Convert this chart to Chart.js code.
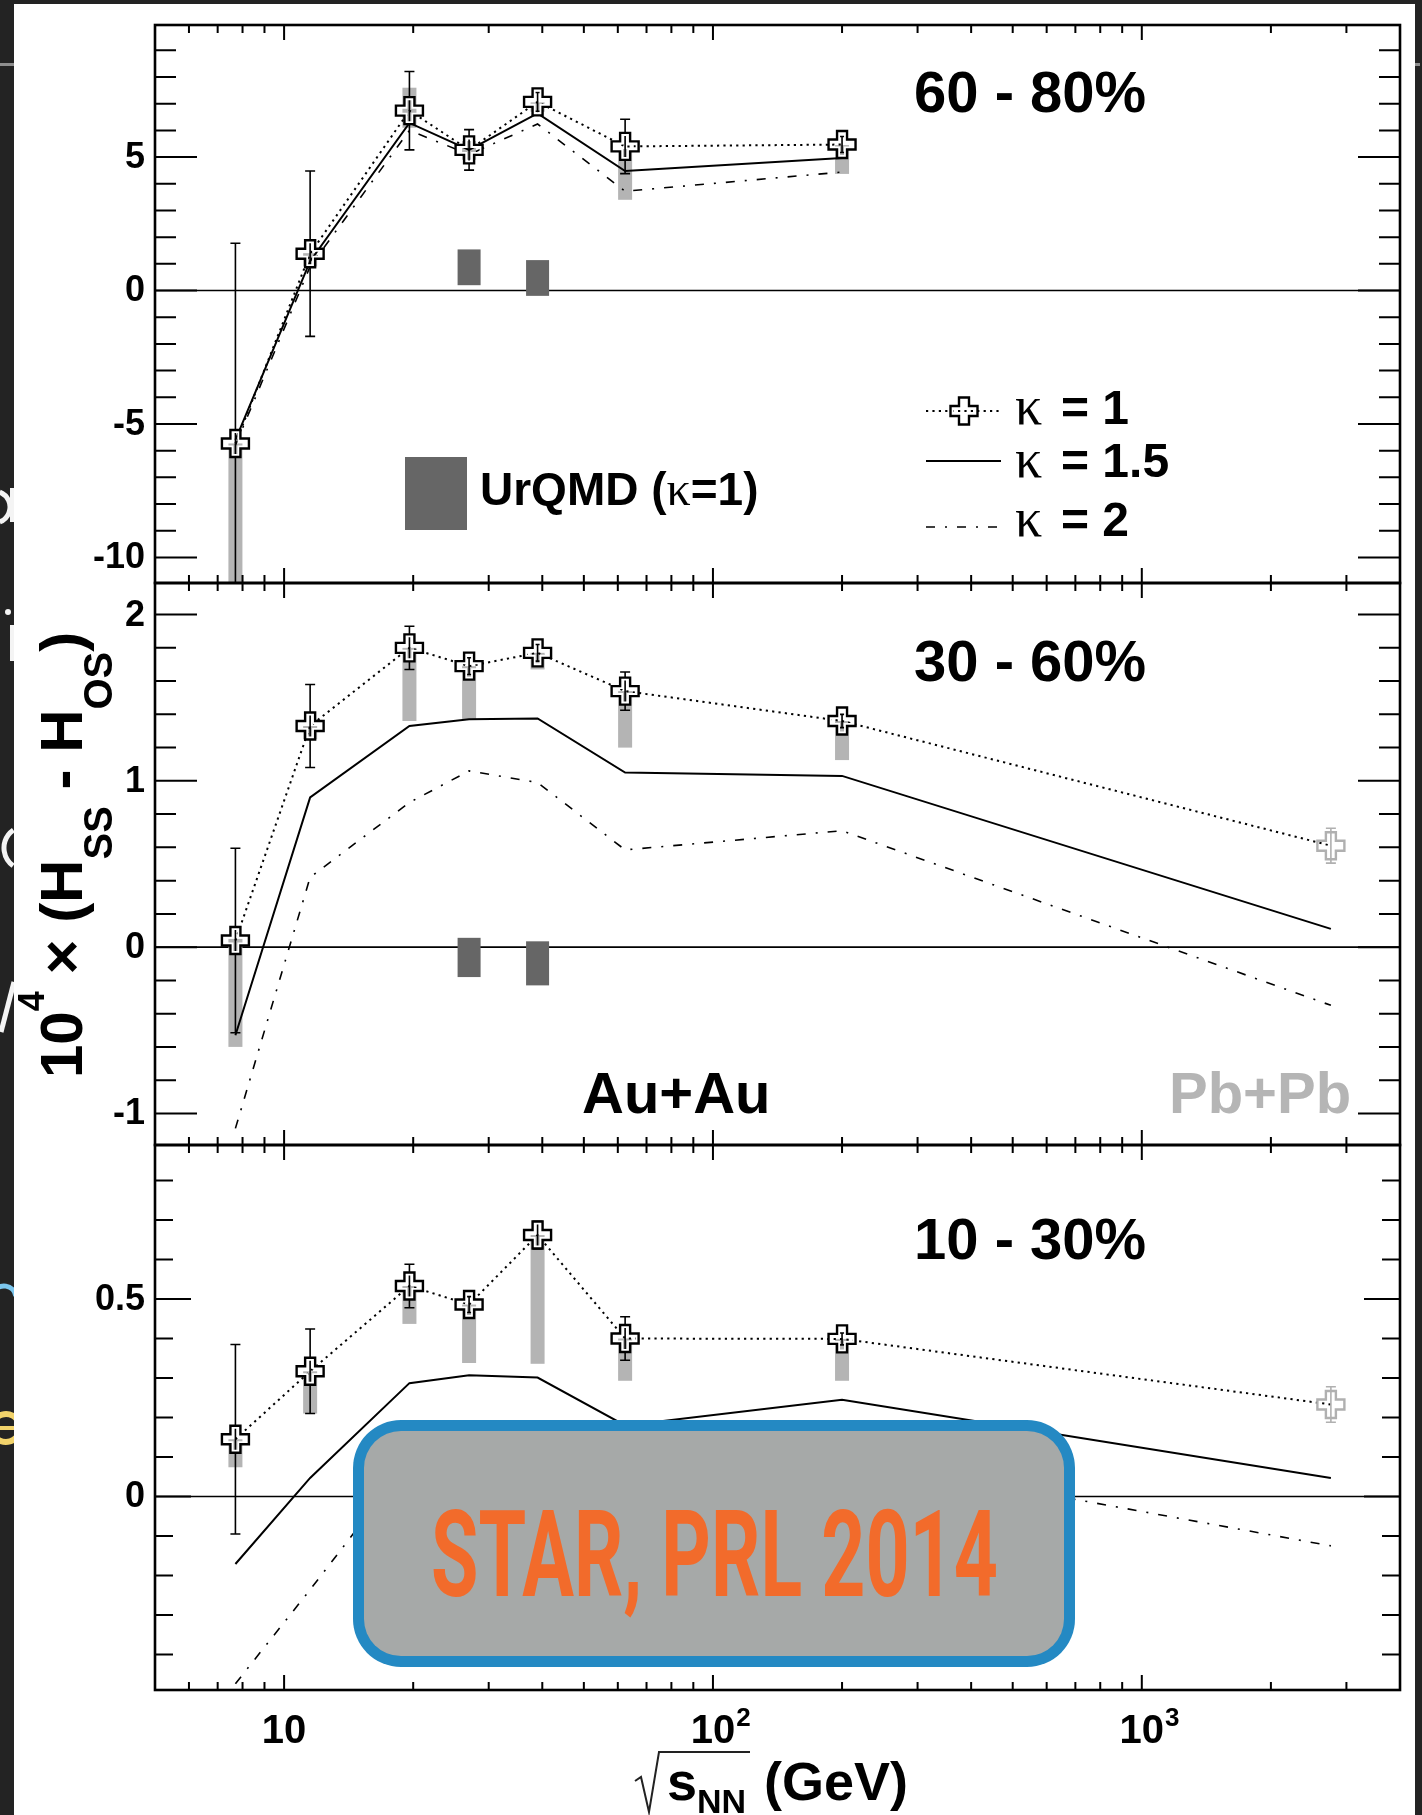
<!DOCTYPE html>
<html>
<head>
<meta charset="utf-8">
<script src="https://cdn.jsdelivr.net/npm/chart.js@4.4.1/dist/chart.umd.min.js"></script>
<style>
  html, body { margin: 0; padding: 0; background: #232323; }
  #wrap { position: relative; width: 1422px; height: 1815px; overflow: hidden; }
  #wrap canvas { position: absolute; left: 0; top: 0; }
</style>
</head>
<body>
<div id="wrap">
  <canvas id="bg" width="1422" height="1815"></canvas>
  <canvas id="c1" width="1422" height="1815"></canvas>
  <canvas id="c2" width="1422" height="1815"></canvas>
  <canvas id="c3" width="1422" height="1815"></canvas>
  <canvas id="fg" width="1422" height="1815"></canvas>
</div>
<script>
// ---------------- data ----------------
const energiesAu = [7.7, 11.5, 19.6, 27, 39, 62.4, 200];   // sqrt(s_NN), GeV
const energiesPb = [2760];
const energiesUrqmd = [27, 39];

// 60-80% centrality
const c6080K1      = [-5.73, 1.38, 6.74, 5.27, 7.07, 5.40, 5.47];
const c6080Stat    = [7.5, 3.1, 1.47, 0.76, 0.35, 1.02, 0.3];
const c6080SysLow  = [-13.0, 0.9, 6.1, 4.9, 6.7, 3.40, 4.37];
const c6080SysHigh = [-5.73, 1.4, 7.6, 5.6, 7.05, 5.3, 5.45];
const c6080K15     = [-5.6, 1.1, 6.28, 5.27, 6.64, 4.48, 4.97];
const c6080K2      = [-5.8, 0.9, 6.0, 5.1, 6.24, 3.72, 4.44];
const c6080UrqmdLow  = [0.20, -0.20];
const c6080UrqmdHigh = [1.54, 1.14];
const c6080Pb = [], c6080PbStat = [];
const c6080YRange = [-10.96, 9.95];
const c6080YTicks = [5, 0, -5, -10];
const c6080YTickLabels = ['5', '0', '-5', '-10'];

// 30-60% centrality
const c3060K1      = [0.04, 1.33, 1.80, 1.69, 1.77, 1.54, 1.36];
const c3060Stat    = [0.555, 0.25, 0.13, 0.05, 0.05, 0.115, 0.04];
const c3060SysLow  = [-0.60, 1.25, 1.36, 1.37, 1.67, 1.20, 1.125];
const c3060SysHigh = [0.05, 1.33, 1.80, 1.69, 1.77, 1.54, 1.36];
const c3060K15     = [-0.53, 0.90, 1.33, 1.37, 1.375, 1.05, 1.03, 0.11];
const c3060K2      = [-1.09, 0.42, 0.87, 1.06, 0.99, 0.585, 0.70, -0.35];
const c3060UrqmdLow  = [-0.18, -0.23];
const c3060UrqmdHigh = [0.056, 0.035];
const c3060Pb = [0.61], c3060PbStat = [0.105];
const c3060YRange = [-1.19, 2.19];
const c3060YTicks = [2, 1, 0, -1];
const c3060YTickLabels = ['2', '1', '0', '-1'];

// 10-30% centrality
const c1030K1      = [0.145, 0.317, 0.533, 0.486, 0.662, 0.40, 0.399];
const c1030Stat    = [0.24, 0.107, 0.055, 0.02, 0.035, 0.055, 0.015];
const c1030SysLow  = [0.074, 0.21, 0.437, 0.338, 0.336, 0.293, 0.293];
const c1030SysHigh = [0.145, 0.317, 0.533, 0.486, 0.662, 0.40, 0.399];
const c1030K15     = [-0.171, 0.047, 0.287, 0.307, 0.301, 0.18, 0.245, 0.047];
const c1030K2      = [-0.474, -0.236, 0.09, 0.15, 0.13, 0.02, 0.10, -0.125];
const c1030UrqmdLow = [], c1030UrqmdHigh = [];
const c1030Pb = [0.233], c1030PbStat = [0.045];
const c1030YRange = [-0.49, 0.89];
const c1030YTicks = [0.5, 0];
const c1030YTickLabels = ['0.5', '0'];

const xRange = [5, 4000];
const xTickValues = [10, 100, 1000];
const xTickBase = ['10', '10', '10'];
const xTickExp = ['', '2', '3'];

const panelLabels = ['60 - 80%', '30 - 60%', '10 - 30%'];
const legendLabels = ['1', '1.5', '2'];

// ---------------- panel set-up ----------------
const panels = [
  { canvas: 'c1', label: panelLabels[0], k1: c6080K1, stat: c6080Stat, sysLo: c6080SysLow, sysHi: c6080SysHigh,
    k15: c6080K15, k2: c6080K2, urLo: c6080UrqmdLow, urHi: c6080UrqmdHigh, pb: c6080Pb, pbStat: c6080PbStat,
    yRange: c6080YRange, yTicks: c6080YTicks, yTickLabels: c6080YTickLabels },
  { canvas: 'c2', label: panelLabels[1], k1: c3060K1, stat: c3060Stat, sysLo: c3060SysLow, sysHi: c3060SysHigh,
    k15: c3060K15, k2: c3060K2, urLo: c3060UrqmdLow, urHi: c3060UrqmdHigh, pb: c3060Pb, pbStat: c3060PbStat,
    yRange: c3060YRange, yTicks: c3060YTicks, yTickLabels: c3060YTickLabels },
  { canvas: 'c3', label: panelLabels[2], k1: c1030K1, stat: c1030Stat, sysLo: c1030SysLow, sysHi: c1030SysHigh,
    k15: c1030K15, k2: c1030K2, urLo: c1030UrqmdLow, urHi: c1030UrqmdHigh, pb: c1030Pb, pbStat: c1030PbStat,
    yRange: c1030YRange, yTicks: c1030YTicks, yTickLabels: c1030YTickLabels }
];

// pixel layout of the three stacked pads
const W = 1422, H = 1815;
const PAD_LEFT = 155, PAD_RIGHT = 1400;
const layouts = [
  { top: 25,   bottom: 583,  yMajor: 5,   yMinor: 1,   majorLen: 42, minorLen: 21, labelBase: 112 },
  { top: 583,  bottom: 1145, yMajor: 1,   yMinor: 0.2, majorLen: 42, minorLen: 21, labelBase: 681 },
  { top: 1145, bottom: 1690, yMajor: 0.5, yMinor: 0.1, majorLen: 36, minorLen: 18, labelBase: 1259 }
];

const SANS = '"Liberation Sans", Arial, Helvetica, sans-serif';
const SERIF = '"Liberation Serif", "DejaVu Serif", serif';

// ---------------- drawing helpers ----------------
function crossPath(ctx, x, y, h, a) {
  ctx.beginPath();
  ctx.moveTo(x - a, y - h); ctx.lineTo(x + a, y - h); ctx.lineTo(x + a, y - a);
  ctx.lineTo(x + h, y - a); ctx.lineTo(x + h, y + a); ctx.lineTo(x + a, y + a);
  ctx.lineTo(x + a, y + h); ctx.lineTo(x - a, y + h); ctx.lineTo(x - a, y + a);
  ctx.lineTo(x - h, y + a); ctx.lineTo(x - h, y - a); ctx.lineTo(x - a, y - a);
  ctx.closePath();
}

// open cross marker: dark outline with a white inner rim
function drawCross(ctx, x, y, color, rim) {
  const h = 13.5, a = 5;
  if (rim) {
    ctx.save();
    crossPath(ctx, x, y, h, a);
    ctx.clip();
    ctx.lineWidth = 6;
    ctx.strokeStyle = '#ffffff';
    ctx.stroke();
    ctx.restore();
  }
  crossPath(ctx, x, y, h, a);
  ctx.lineWidth = 2.4;
  ctx.strokeStyle = color;
  ctx.stroke();
}

function drawErrorBar(ctx, x, yTop, yBot, color) {
  ctx.strokeStyle = color;
  ctx.lineWidth = 1.6;
  ctx.beginPath();
  ctx.moveTo(x, yTop); ctx.lineTo(x, yBot);
  ctx.moveTo(x - 5, yTop); ctx.lineTo(x + 5, yTop);
  ctx.moveTo(x - 5, yBot); ctx.lineTo(x + 5, yBot);
  ctx.stroke();
}

function clipArea(ctx, ca) {
  ctx.beginPath();
  ctx.rect(ca.left, ca.top, ca.right - ca.left, ca.bottom - ca.top);
  ctx.clip();
}

// text made of pieces with their own font and baseline shift
function drawRich(ctx, pieces, x, y) {
  let cx = x;
  pieces.forEach(p => {
    ctx.font = p.font;
    ctx.fillText(p.t, cx, y + (p.dy || 0));
    cx += ctx.measureText(p.t).width + (p.gap || 0);
  });
  return cx;
}

const DOTTED = [2.2, 4.2];
const DASHDOT = [9, 10, 2, 10];

function makePlugin(spec, lay, index) {
  return {
    id: 'padDecor' + index,
    beforeDatasetsDraw(chart) {
      const { ctx, chartArea: ca, scales: { x, y } } = chart;
      ctx.save();
      clipArea(ctx, ca);
      // zero line
      const y0 = y.getPixelForValue(0);
      ctx.strokeStyle = '#000';
      ctx.lineWidth = 1.6;
      ctx.beginPath(); ctx.moveTo(ca.left, y0); ctx.lineTo(ca.right, y0); ctx.stroke();
      // UrQMD model boxes
      ctx.fillStyle = '#666666';
      energiesUrqmd.forEach((e, i) => {
        if (spec.urLo[i] === undefined) return;
        const cx = x.getPixelForValue(e);
        const t = y.getPixelForValue(spec.urHi[i]);
        const b = y.getPixelForValue(spec.urLo[i]);
        ctx.fillRect(cx - 11.5, t, 23, b - t);
      });
      // systematic uncertainty boxes
      ctx.fillStyle = '#b4b4b4';
      energiesAu.forEach((e, i) => {
        const cx = x.getPixelForValue(e);
        const t = y.getPixelForValue(spec.sysHi[i]);
        const b = y.getPixelForValue(spec.sysLo[i]);
        ctx.fillRect(cx - 7, t, 14, b - t);
      });
      ctx.restore();
    },
    afterDatasetsDraw(chart) {
      const { ctx, chartArea: ca, scales: { x, y } } = chart;
      ctx.save();
      clipArea(ctx, ca);
      // statistical error bars and markers
      energiesAu.forEach((e, i) => {
        const cx = x.getPixelForValue(e);
        drawErrorBar(ctx, cx, y.getPixelForValue(spec.k1[i] + spec.stat[i]),
                     y.getPixelForValue(spec.k1[i] - spec.stat[i]), '#000');
      });
      energiesPb.forEach((e, i) => {
        if (spec.pb[i] === undefined) return;
        const cx = x.getPixelForValue(e);
        drawErrorBar(ctx, cx, y.getPixelForValue(spec.pb[i] + spec.pbStat[i]),
                     y.getPixelForValue(spec.pb[i] - spec.pbStat[i]), '#b0b0b0');
      });
      energiesAu.forEach((e, i) => {
        drawCross(ctx, x.getPixelForValue(e), y.getPixelForValue(spec.k1[i]), '#000', true);
      });
      energiesPb.forEach((e, i) => {
        if (spec.pb[i] === undefined) return;
        drawCross(ctx, x.getPixelForValue(e), y.getPixelForValue(spec.pb[i]), '#b0b0b0', false);
      });
      ctx.restore();

      // frame
      ctx.save();
      ctx.strokeStyle = '#000';
      ctx.lineWidth = 2.6;
      ctx.strokeRect(ca.left, ca.top, ca.right - ca.left, ca.bottom - ca.top);

      // x ticks on top and bottom edges, pointing inwards
      ctx.lineWidth = 2;
      ctx.beginPath();
      for (let d = 1; d <= 1000; d *= 10) {
        for (let m = 1; m <= 9; m++) {
          const v = m * d;
          if (v <= xRange[0] || v >= xRange[1]) continue;
          const px = x.getPixelForValue(v);
          const len = m === 1 ? 15 : 8;
          ctx.moveTo(px, ca.top); ctx.lineTo(px, ca.top + len);
          ctx.moveTo(px, ca.bottom); ctx.lineTo(px, ca.bottom - len);
        }
      }
      // y ticks on both edges
      const ratio = Math.round(lay.yMajor / lay.yMinor);
      const k0 = Math.ceil(spec.yRange[0] / lay.yMinor - 1e-6);
      const k1 = Math.floor(spec.yRange[1] / lay.yMinor + 1e-6);
      for (let k = k0; k <= k1; k++) {
        const py = y.getPixelForValue(k * lay.yMinor);
        const len = (k % ratio === 0) ? lay.majorLen : lay.minorLen;
        ctx.moveTo(ca.left, py); ctx.lineTo(ca.left + len, py);
        ctx.moveTo(ca.right, py); ctx.lineTo(ca.right - len, py);
      }
      ctx.stroke();

      // y tick labels
      ctx.fillStyle = '#000';
      ctx.font = 'bold 36px ' + SANS;
      ctx.textAlign = 'right';
      ctx.textBaseline = 'middle';
      spec.yTicks.forEach((v, i) => {
        ctx.fillText(spec.yTickLabels[i], ca.left - 10, y.getPixelForValue(v) + 1);
      });

      // centrality label
      ctx.textAlign = 'left';
      ctx.textBaseline = 'alphabetic';
      ctx.font = 'bold 58px ' + SANS;
      ctx.fillText(spec.label, 914, lay.labelBase);

      if (index === 0) drawLegend(ctx);
      if (index === 1) {
        ctx.font = 'bold 58px ' + SANS;
        ctx.fillStyle = '#000';
        ctx.fillText('Au+Au', 582, 1113);
        ctx.fillStyle = '#b5b5b5';
        ctx.fillText('Pb+Pb', 1169, 1113);
      }
      if (index === 2) {
        // x tick labels (bottom pad only)
        ctx.fillStyle = '#000';
        xTickValues.forEach((v, i) => {
          const px = x.getPixelForValue(v);
          ctx.font = 'bold 40px ' + SANS;
          ctx.textAlign = 'center';
          ctx.fillText(xTickBase[i], px, 1743);
          if (xTickExp[i]) {
            const w = ctx.measureText(xTickBase[i]).width;
            ctx.font = 'bold 26px ' + SANS;
            ctx.textAlign = 'left';
            ctx.fillText(xTickExp[i], px + w / 2 + 1, 1726);
          }
        });
      }
      ctx.restore();
    }
  };
}

function drawLegend(ctx) {
  ctx.save();
  // UrQMD legend entry
  ctx.fillStyle = '#666666';
  ctx.fillRect(405, 457, 62, 73);
  ctx.fillStyle = '#000';
  ctx.textAlign = 'left';
  drawRich(ctx, [
    { t: 'UrQMD (', font: 'bold 46px ' + SANS },
    { t: '\u03ba', font: '48px ' + SERIF },
    { t: '=1)', font: 'bold 46px ' + SANS }
  ], 480, 505);

  // model curve legend
  const rows = [{ y: 411, base: 424, dash: DOTTED, w: 2 }, { y: 461, base: 477, dash: [], w: 2 }, { y: 527, base: 536, dash: DASHDOT, w: 1.6 }];
  rows.forEach((r, i) => {
    ctx.strokeStyle = '#000';
    ctx.lineWidth = r.w;
    ctx.setLineDash(r.dash);
    ctx.beginPath(); ctx.moveTo(926, r.y); ctx.lineTo(1001, r.y); ctx.stroke();
    ctx.setLineDash([]);
    if (i === 0) drawCross(ctx, 964, r.y, '#000', true);
    ctx.fillStyle = '#000';
    ctx.font = '54px ' + SERIF;
    ctx.fillText('\u03ba', 1015, r.base);
    ctx.font = 'bold 48px ' + SANS;
    ctx.fillText('= ' + legendLabels[i], 1061, r.base);
  });
  ctx.restore();
}

// ---------------- charts ----------------
const allEnergies = energiesAu.concat(energiesPb);
function pts(xs, ys) { return ys.map((v, i) => ({ x: xs[i], y: v })); }

panels.forEach((spec, idx) => {
  const lay = layouts[idx];
  const k1Line = spec.pb.length ? spec.k1.concat(spec.pb) : spec.k1;
  new Chart(document.getElementById(spec.canvas), {
    type: 'line',
    data: {
      datasets: [
        { label: 'kappa = 1', data: pts(allEnergies, k1Line), borderColor: '#000', borderWidth: 2, borderDash: DOTTED },
        { label: 'kappa = 1.5', data: pts(allEnergies, spec.k15), borderColor: '#000', borderWidth: 2 },
        { label: 'kappa = 2', data: pts(allEnergies, spec.k2), borderColor: '#000', borderWidth: 1.6, borderDash: DASHDOT }
      ]
    },
    options: {
      responsive: false,
      animation: false,
      devicePixelRatio: 1,
      layout: { padding: { left: PAD_LEFT, right: W - PAD_RIGHT, top: lay.top, bottom: H - lay.bottom } },
      elements: { point: { radius: 0, hoverRadius: 0 }, line: { tension: 0, fill: false } },
      plugins: { legend: { display: false }, tooltip: { enabled: false } },
      events: [],
      scales: {
        x: { type: 'logarithmic', min: xRange[0], max: xRange[1], display: false },
        y: { type: 'linear', min: spec.yRange[0], max: spec.yRange[1], display: false }
      }
    },
    plugins: [makePlugin(spec, lay, idx)]
  });
});

// ---------------- background and slide frame ----------------
(function () {
  const ctx = document.getElementById('bg').getContext('2d');
  ctx.fillStyle = '#232323';
  ctx.fillRect(0, 0, W, H);
  // title underline of the slide, peeking out at the edges
  ctx.fillStyle = '#8e8e8e';
  ctx.fillRect(0, 63, 14, 3);
  ctx.fillRect(1415, 63, 5, 3);
  // bits of slide lettering visible beside the figure
  ctx.save();
  ctx.beginPath(); ctx.rect(0, 0, 14, H); ctx.clip();
  ctx.lineCap = 'butt';
  ctx.strokeStyle = '#f4f4f4';
  ctx.lineWidth = 5;
  ctx.beginPath(); ctx.arc(-6, 507, 16, -1.2, 1.2); ctx.stroke();
  ctx.fillStyle = '#f4f4f4';
  ctx.fillRect(10, 488, 4, 34);
  ctx.fillRect(10, 625, 4, 36);
  ctx.beginPath(); ctx.arc(8, 612, 3, 0, Math.PI * 2); ctx.fill();
  ctx.lineWidth = 5;
  ctx.beginPath(); ctx.arc(26, 848, 22, 2.2, 4.1); ctx.stroke();
  ctx.beginPath(); ctx.moveTo(1, 1032); ctx.lineTo(14, 982); ctx.stroke();
  ctx.strokeStyle = '#7cc7ee';
  ctx.beginPath(); ctx.arc(4, 1298, 12, Math.PI * 1.05, Math.PI * 1.95); ctx.stroke();
  ctx.strokeStyle = '#f2d36b';
  ctx.lineWidth = 6;
  ctx.beginPath(); ctx.arc(6, 1428, 14, 0.5, 5.9); ctx.stroke();
  ctx.fillStyle = '#f2d36b';
  ctx.fillRect(0, 1426, 14, 4);
  ctx.restore();
  ctx.fillStyle = '#ffffff';
  ctx.fillRect(14, 4, 1401, H - 4);
})();

// ---------------- axis titles and stamp ----------------
(function () {
  const ctx = document.getElementById('fg').getContext('2d');
  ctx.fillStyle = '#000';
  ctx.textBaseline = 'alphabetic';

  // y title, rotated
  ctx.save();
  ctx.translate(82, 1078);
  ctx.rotate(-Math.PI / 2);
  ctx.textAlign = 'left';
  const big = 'bold 60px ' + SANS, small = 'bold 40px ' + SANS;
  drawRich(ctx, [
    { t: '10', font: big },
    { t: '4', font: 'bold 36px ' + SANS, dy: -38 },
    { t: ' \u00d7 (', font: big },
    { t: 'H', font: big },
    { t: 'SS', font: small, dy: 30 },
    { t: ' - H', font: big },
    { t: 'OS', font: small, dy: 30 },
    { t: ')', font: big }
  ], 0, 0);
  ctx.restore();

  // x title with radical sign
  ctx.save();
  ctx.strokeStyle = '#222';
  ctx.lineWidth = 2;
  ctx.beginPath();
  ctx.moveTo(635, 1781); ctx.lineTo(641, 1777); ctx.lineTo(649, 1812); ctx.lineTo(659, 1752); ctx.lineTo(750, 1752);
  ctx.stroke();
  ctx.textAlign = 'left';
  drawRich(ctx, [
    { t: 's', font: 'bold 54px ' + SANS },
    { t: 'NN', font: 'bold 34px ' + SANS, dy: 13 }
  ], 667, 1800);
  ctx.font = 'bold 54px ' + SANS;
  ctx.fillText('(GeV)', 764, 1800);
  ctx.restore();

  // publication stamp
  ctx.save();
  const bx = 353, by = 1420, bw = 722, bh = 247, r = 48, bw2 = 11;
  ctx.fillStyle = '#2489c3';
  ctx.beginPath(); ctx.roundRect(bx, by, bw, bh, r); ctx.fill();
  ctx.fillStyle = '#a6a9a8';
  ctx.beginPath(); ctx.roundRect(bx + bw2, by + bw2, bw - 2 * bw2, bh - 2 * bw2, r - bw2); ctx.fill();
  ctx.fillStyle = '#f26b2b';
  ctx.font = 'bold 120px Roboto, ' + SANS;
  const txt = 'STAR, PRL 2014';
  const tw = ctx.measureText(txt).width;
  const sx = 567 / tw;
  ctx.translate(431, 1596);
  ctx.scale(sx, 1);
  ctx.textAlign = 'left';
  ctx.fillText(txt, 0, 0);
  ctx.restore();
})();
</script>
</body>
</html>
